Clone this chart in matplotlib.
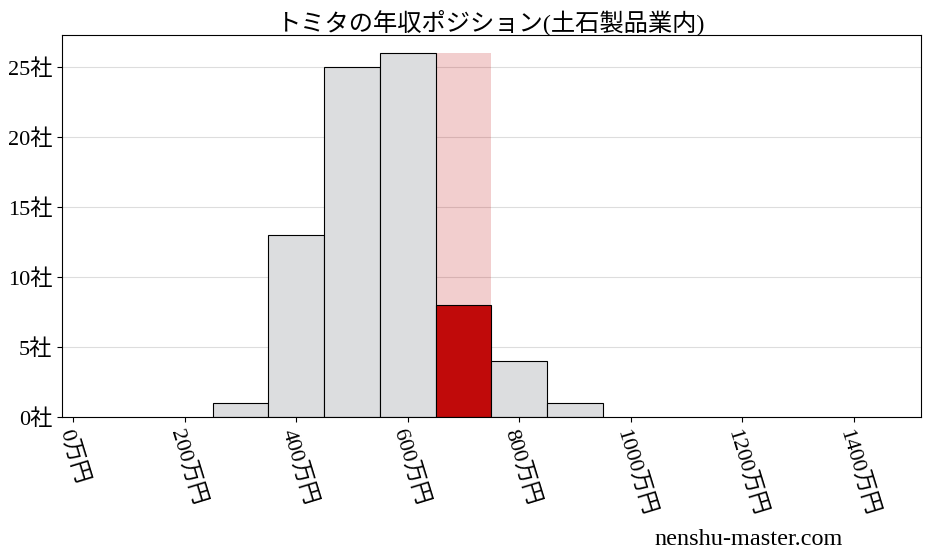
import numpy as np
import matplotlib
matplotlib.use('Agg')
import matplotlib.pyplot as plt

plt.rcParams['font.family'] = ['Liberation Serif', 'Noto Sans CJK JP', 'DejaVu Sans']

# histogram data (bin left edges in 万円, counts)
bin_lefts = [250, 350, 450, 550, 650, 750, 850]
counts = [1, 13, 25, 26, 8, 4, 1]
bin_width = 100
highlight_idx = 4
xticks = [0, 200, 400, 600, 800, 1000, 1200, 1400]
yticks = [0, 5, 10, 15, 20, 25]
title = 'トミタの年収ポジション(土石製品業内)'

fig = plt.figure(figsize=(9.28, 5.57), dpi=100)
ax = fig.add_axes([0.067, 0.251, 0.925, 0.686])

ax.set_axisbelow(True)
ax.grid(axis='y', color='#dddddd', lw=0.8)

# light red background for highlight bin
ax.bar(bin_lefts[highlight_idx], max(counts), width=bin_width, align='edge',
       color='#c00a0a', alpha=0.2, lw=0)

colors = ['#dcdddf'] * len(counts)
colors[highlight_idx] = '#c00a0a'
ax.bar(bin_lefts, counts, width=bin_width, align='edge', color=colors,
       edgecolor='black', lw=0.8)

ax.set_xlim(-20, 1520)
ax.set_ylim(0, max(counts) * 1.05)
ax.set_xticks(xticks)
ax.set_xticklabels(['%d万円' % v for v in xticks], rotation=-73, ha='left',
                   rotation_mode='anchor', fontsize=16)
ax.set_yticks(yticks)
ax.set_yticklabels(['%d社' % v for v in yticks], fontsize=16)
ax.set_title(title, fontsize=17.5, pad=4)

fig.text(0.705, 0.022, 'nenshu-master.com', fontsize=17.5)

plt.savefig('out.png')
